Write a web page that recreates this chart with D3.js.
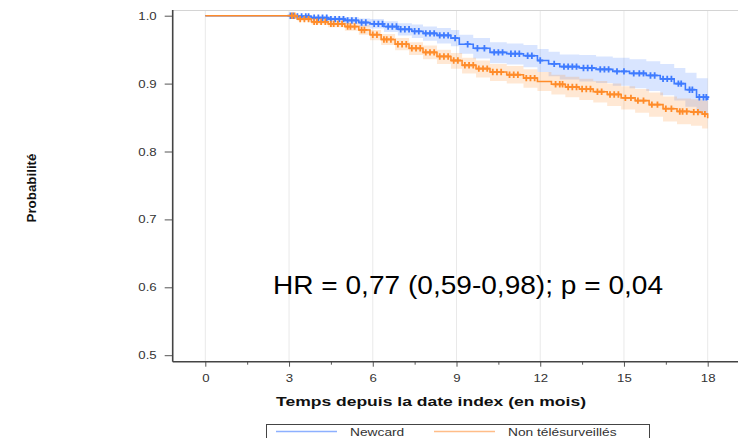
<!DOCTYPE html>
<html>
<head>
<meta charset="utf-8">
<script src="https://cdn.jsdelivr.net/npm/d3@7"></script>
<style>
  body { margin: 0; background: #fff; }
  text { font-family: "Liberation Sans", Arial, sans-serif; }
</style>
</head>
<body>
<div id="wrapper"></div>
<script>
// Newcard group
const blueTimes = [0, 3.2, 3.8, 4.4, 5.0, 5.5, 5.9, 6.4, 6.9, 7.4, 7.8, 8.3, 8.8, 9.1, 9.6, 10.2, 10.8, 11.4, 11.9, 12.3, 12.7, 13.4, 14.0, 14.6, 15.2, 15.8, 16.3, 16.8, 17.2, 17.6, 18.0]
const blueSurv = [1.0, .999, .997, .995, .993, .990, .988, .984, .980, .977, .974, .971, .967, .958, .952, .946, .944, .941, .934, .929, .925, .923, .921, .918, .915, .912, .907, .900, .891, .880, .876]
const blueUpper = [1.0, 1.0, 1.0, .999, .998, .996, .995, .992, .989, .987, .984, .982, .979, .972, .967, .961, .959, .957, .951, .947, .943, .942, .940, .938, .936, .933, .929, .923, .916, .908, .904]
const blueLower = [1.0, .997, .994, .991, .988, .984, .981, .976, .971, .967, .963, .959, .955, .944, .937, .930, .928, .924, .917, .911, .906, .903, .901, .897, .893, .889, .883, .875, .866, .855, .849]
const blueCensor = [3.05, 3.15, 3.3, 3.45, 3.6, 3.7, 3.9, 4.05, 4.2, 4.35, 4.5, 4.65, 4.8, 4.95, 5.1, 5.25, 5.4, 5.6, 5.75, 6.05, 6.2, 6.35, 6.55, 6.7, 6.85, 7.0, 7.15, 7.3, 7.5, 7.65, 7.9, 8.05, 8.2, 8.4, 8.55, 8.7, 8.95, 9.4, 9.75, 10.0, 10.35, 10.5, 10.65, 10.95, 11.1, 11.25, 11.55, 11.7, 12.0, 12.5, 12.85, 13.0, 13.15, 13.3, 13.55, 13.7, 13.85, 14.15, 14.3, 14.45, 14.75, 15.0, 15.35, 15.55, 15.7, 15.95, 16.1, 16.4, 16.55, 16.7, 16.95, 17.05, 17.35, 17.45, 17.7, 17.85, 17.95]

// Non telesurveilles group
const orangeTimes = [0, 3.0, 3.3, 3.8, 4.4, 5.0, 5.5, 5.9, 6.3, 6.8, 7.3, 7.8, 8.3, 8.8, 9.2, 9.7, 10.2, 10.8, 11.4, 11.9, 12.4, 12.9, 13.4, 13.9, 14.4, 14.9, 15.4, 15.9, 16.4, 16.9, 17.4, 17.8, 18.0]
const orangeSurv = [1.0, 1.0, .995, .991, .988, .984, .979, .972, .965, .958, .952, .946, .940, .934, .927, .922, .917, .913, .908, .903, .899, .895, .892, .888, .884, .879, .875, .869, .863, .859, .858, .855, .849]
const orangeUpper = [1.0, 1.0, .998, .995, .993, .990, .986, .979, .973, .967, .961, .956, .950, .945, .938, .934, .929, .926, .921, .917, .913, .910, .907, .904, .900, .896, .892, .887, .881, .878, .877, .875, .870]
const orangeLower = [1.0, 1.0, .992, .987, .983, .978, .972, .964, .957, .949, .942, .936, .929, .922, .915, .909, .904, .900, .894, .889, .884, .880, .876, .872, .867, .862, .857, .851, .844, .840, .838, .834, .827]
const orangeCensor = [3.1, 3.2, 3.4, 3.55, 3.7, 3.9, 4.0, 4.15, 4.3, 4.5, 4.6, 4.75, 4.9, 5.1, 5.2, 5.35, 5.6, 5.7, 6.0, 6.15, 6.4, 6.5, 6.65, 6.9, 7.05, 7.2, 7.4, 7.55, 7.7, 7.9, 8.05, 8.2, 8.4, 8.55, 8.7, 8.9, 9.05, 9.3, 9.45, 9.6, 9.8, 9.95, 10.1, 10.3, 10.45, 10.6, 10.9, 11.05, 11.2, 11.5, 11.65, 11.8, 12.55, 12.7, 12.8, 13.0, 13.15, 13.3, 13.5, 13.65, 13.8, 14.05, 14.2, 14.5, 14.65, 14.8, 15.05, 15.25, 15.5, 15.7, 16.0, 16.2, 16.5, 16.7, 17.0, 17.1, 17.25, 17.5, 17.65, 17.9]

const xTicks = [0, 3, 6, 9, 12, 15, 18]
const xMinorTicks = [1.5, 4.5, 7.5, 10.5, 13.5, 16.5]
const yTicks = [0.5, 0.6, 0.7, 0.8, 0.9, 1.0]
const legendLabels = ["Newcard", "Non télésurveillés"]
const hrLabel = "HR = 0,77 (0,59-0,98); p = 0,04"

const blueColor = "#3f7bff"
const orangeColor = "#ff8c2a"
const legendColors = ["#8db0ff", "#ffbd88"]

// chart dimentions
const dims = {
    width: 738,
    height: 438,
    margin: { top: 10, left: 172.7 }
}
dims.boundedWidth = 580
dims.boundedHeight = 351.7

const svg = d3.select("#wrapper")
    .append("svg")
    .attr("width", dims.width)
    .attr("height", dims.height)

const bounds = svg.append("g")
    .attr("transform", `translate(${dims.margin.left},${dims.margin.top})`)

const xScale = d3.scaleLinear()
    .domain([0, 18])
    .range([32.6, 535])

const yScale = d3.scaleLinear()
    .domain([0.5, 1.0])
    .range([345.2, 5.7])

// stretch text a bit like the original bitmap
const stretch = (sel, k) => sel
    .attr("textLength", function () { return this.getComputedTextLength() * k })
    .attr("lengthAdjust", "spacingAndGlyphs")

// grid lines
bounds.append("g")
    .selectAll("line")
    .data(xTicks)
    .join("line")
    .attr("x1", d => xScale(d))
    .attr("x2", d => xScale(d))
    .attr("y1", 0)
    .attr("y2", dims.boundedHeight)
    .attr("stroke", "#e9e9e9")
    .attr("stroke-width", 1)

// top frame
bounds.append("line")
    .attr("x1", 0).attr("x2", dims.boundedWidth)
    .attr("y1", 0.5).attr("y2", 0.5)
    .attr("stroke", "#d4d4d4")

const groups = [
    { times: blueTimes, surv: blueSurv, lo: blueLower, hi: blueUpper, censor: blueCensor, color: blueColor },
    { times: orangeTimes, surv: orangeSurv, lo: orangeLower, hi: orangeUpper, censor: orangeCensor, color: orangeColor }
]

const rows = g => g.times.map((t, i) => ({ t: t, s: g.surv[i], lo: g.lo[i], hi: g.hi[i] }))

const bandGen = d3.area()
    .curve(d3.curveStepAfter)
    .x(d => xScale(d.t))
    .y0(d => yScale(d.lo))
    .y1(d => yScale(d.hi))

const lineGen = d3.line()
    .curve(d3.curveStepAfter)
    .x(d => xScale(d.t))
    .y(d => yScale(d.s))

groups.forEach(g => {
    bounds.append("path")
        .datum(rows(g).filter(d => d.t >= 3))
        .attr("d", bandGen)
        .attr("fill", g.color)
        .attr("fill-opacity", 0.2)
})

groups.forEach(g => {
    bounds.append("path")
        .datum(rows(g))
        .attr("d", lineGen)
        .attr("fill", "none")
        .attr("stroke", g.color)
        .attr("stroke-width", 1.6)

    const stepAt = t => g.surv[d3.bisectRight(g.times, t) - 1]
    bounds.append("g")
        .selectAll("path")
        .data(g.censor)
        .join("path")
        .attr("d", "M-3,0H3M0,-3.2V3.2")
        .attr("transform", d => `translate(${xScale(d)},${yScale(stepAt(d))})`)
        .attr("stroke", g.color)
        .attr("stroke-width", 1.8)
        .attr("fill", "none")
})

// x axis
const xAxisGenerator = d3.axisBottom(xScale)
    .tickValues(xTicks)
    .tickSize(5)
    .tickPadding(8)
const xAxis = bounds.append("g")
    .attr("transform", `translate(0,${dims.boundedHeight})`)
    .call(xAxisGenerator)
xAxis.select(".domain").remove()
xAxis.selectAll("line").attr("stroke", "#555")
xAxis.selectAll("text")
    .attr("font-size", 11)
    .attr("fill", "#333")
    .call(stretch, 1.2)

const xMinor = bounds.append("g")
    .attr("transform", `translate(0,${dims.boundedHeight})`)
    .call(d3.axisBottom(xScale).tickValues(xMinorTicks).tickSize(3).tickFormat(""))
xMinor.select(".domain").remove()
xMinor.selectAll("line").attr("stroke", "#555")

bounds.append("line")
    .attr("x1", 0).attr("x2", dims.boundedWidth)
    .attr("y1", dims.boundedHeight).attr("y2", dims.boundedHeight)
    .attr("stroke", "#444")
    .attr("stroke-width", 1.6)

// y axis
const yAxisGenerator = d3.axisLeft(yScale)
    .tickValues(yTicks)
    .tickFormat(d3.format(".1f"))
    .tickSize(8)
    .tickPadding(8)
const yAxis = bounds.append("g").call(yAxisGenerator)
yAxis.select(".domain").remove()
yAxis.selectAll("line").attr("stroke", "#555")
yAxis.selectAll("text")
    .attr("font-size", 11)
    .attr("fill", "#333")
    .call(stretch, 1.2)

bounds.append("line")
    .attr("x1", 0).attr("x2", 0)
    .attr("y1", 0).attr("y2", dims.boundedHeight)
    .attr("stroke", "#444")
    .attr("stroke-width", 1.6)

// axis titles
svg.append("text")
    .attr("x", 431)
    .attr("y", 406)
    .attr("text-anchor", "middle")
    .attr("font-size", 12.5)
    .attr("font-weight", "bold")
    .attr("fill", "#111")
    .text("Temps depuis la date index (en mois)")
    .attr("textLength", 310)
    .attr("lengthAdjust", "spacingAndGlyphs")

svg.append("text")
    .attr("transform", "translate(36,188) rotate(-90)")
    .attr("text-anchor", "middle")
    .attr("font-size", 12)
    .attr("font-weight", "bold")
    .attr("fill", "#111")
    .text("Probabilité")
    .attr("textLength", 69)
    .attr("lengthAdjust", "spacingAndGlyphs")

// HR annotation
svg.append("text")
    .attr("x", 273)
    .attr("y", 293.5)
    .attr("font-size", 25)
    .attr("font-family", "'Noto Sans', sans-serif")
    .attr("fill", "#000")
    .text(hrLabel)
    .attr("textLength", 390)
    .attr("lengthAdjust", "spacingAndGlyphs")

// legend
const legend = svg.append("g")
legend.append("rect")
    .attr("x", 266.5).attr("y", 424.5)
    .attr("width", 383).attr("height", 30)
    .attr("fill", "#fff")
    .attr("stroke", "#444")

const legendX = [276, 434]
legendLabels.forEach((label, i) => {
    legend.append("line")
        .attr("x1", legendX[i]).attr("x2", legendX[i] + 61)
        .attr("y1", 431.5).attr("y2", 431.5)
        .attr("stroke", legendColors[i])
        .attr("stroke-width", 1.5)
    legend.append("text")
        .attr("x", legendX[i] + 74)
        .attr("y", 435.5)
        .attr("font-size", 11)
        .attr("fill", "#333")
        .text(label)
        .call(stretch, 1.25)
})
</script>
</body>
</html>
